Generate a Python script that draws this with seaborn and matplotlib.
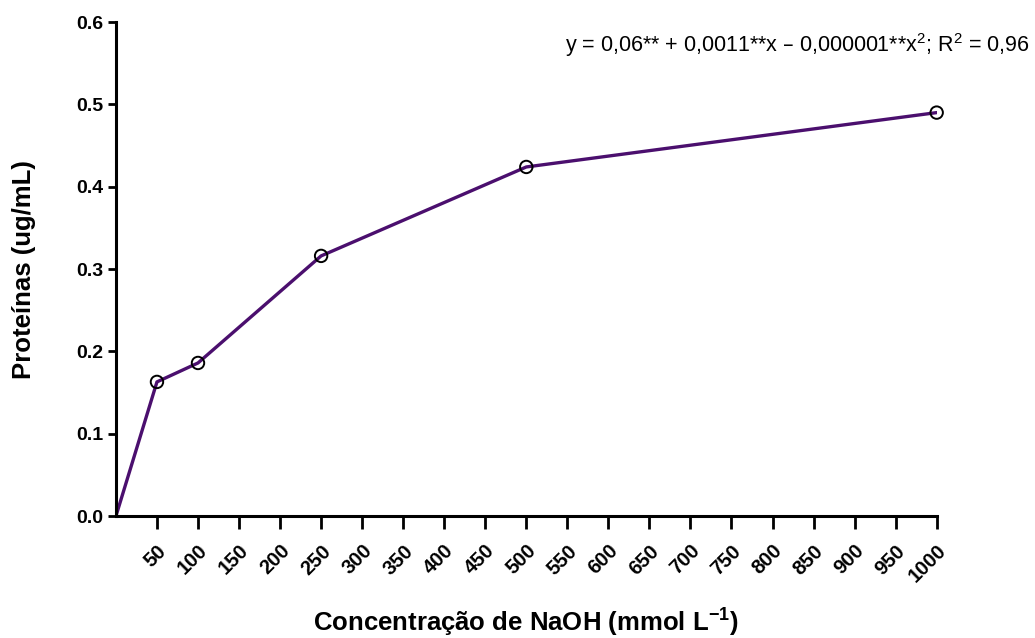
import matplotlib
matplotlib.use("Agg")
import matplotlib.pyplot as plt
import seaborn as sns
import pandas as pd

# NaOH concentration (mmol/L) and extracted protein (ug/mL)
concentracao = [0, 50, 100, 250, 500, 1000]
proteinas = [0.0, 0.163, 0.186, 0.316, 0.424, 0.490]
x_ticks = list(range(50, 1001, 50))
y_ticks = [0.0, 0.1, 0.2, 0.3, 0.4, 0.5, 0.6]

sns.set_theme(style="white")
plt.rcParams["font.family"] = ["Liberation Sans", "DejaVu Sans"]
plt.rcParams["mathtext.default"] = "regular"
plt.rcParams["text.color"] = "black"
plt.rcParams["axes.labelcolor"] = "black"

df = pd.DataFrame({"conc": concentracao, "prot": proteinas})

fig = plt.figure(figsize=(10.35, 6.38), dpi=100)
ax = fig.add_axes([0.112, 0.191, 0.793, 0.7745])

sns.lineplot(data=df, x="conc", y="prot", ax=ax, color="#4b0f6e",
             linewidth=2.4, zorder=2)
sns.scatterplot(data=df[df["conc"] > 0], x="conc", y="prot", ax=ax,
                marker="o", s=80, facecolor="none", edgecolor="black",
                linewidth=1.4, zorder=3, clip_on=False)

ax.set_xlim(0, 1000)
ax.set_ylim(0, 0.6)
ax.set_xticks(x_ticks)
ax.set_xticklabels([str(t) for t in x_ticks], rotation=45, ha="right",
                   rotation_mode="anchor", fontsize=14.5, fontweight="bold")
ax.set_yticks(y_ticks)
ax.set_yticklabels([f"{t:.1f}" for t in y_ticks], fontsize=14,
                   fontweight="bold")

for side in ["top", "right"]:
    ax.spines[side].set_visible(False)
for side in ["left", "bottom"]:
    ax.spines[side].set_linewidth(2.2)
    ax.spines[side].set_color("black")

ax.tick_params(axis="x", direction="out", length=9, width=2, pad=9,
               colors="black", bottom=True)
ax.tick_params(axis="y", direction="out", length=6, width=2, pad=3,
               colors="black", left=True)

ax.set_xlabel("Concentração de NaOH (mmol L$^{-1}$)", fontsize=18.5,
              fontweight="bold", labelpad=15, color="black")
ax.set_ylabel("Proteínas (ug/mL)", fontsize=18.5, fontweight="bold",
              labelpad=29, color="black")

fig.text(0.995, 0.918,
         "y = 0,06** + 0,0011**x – 0,000001**x$^{2}$; R$^{2}$ = 0,96",
         ha="right", va="baseline", fontsize=15.5, color="black")

fig.savefig("out.png", dpi=100, facecolor="white")
